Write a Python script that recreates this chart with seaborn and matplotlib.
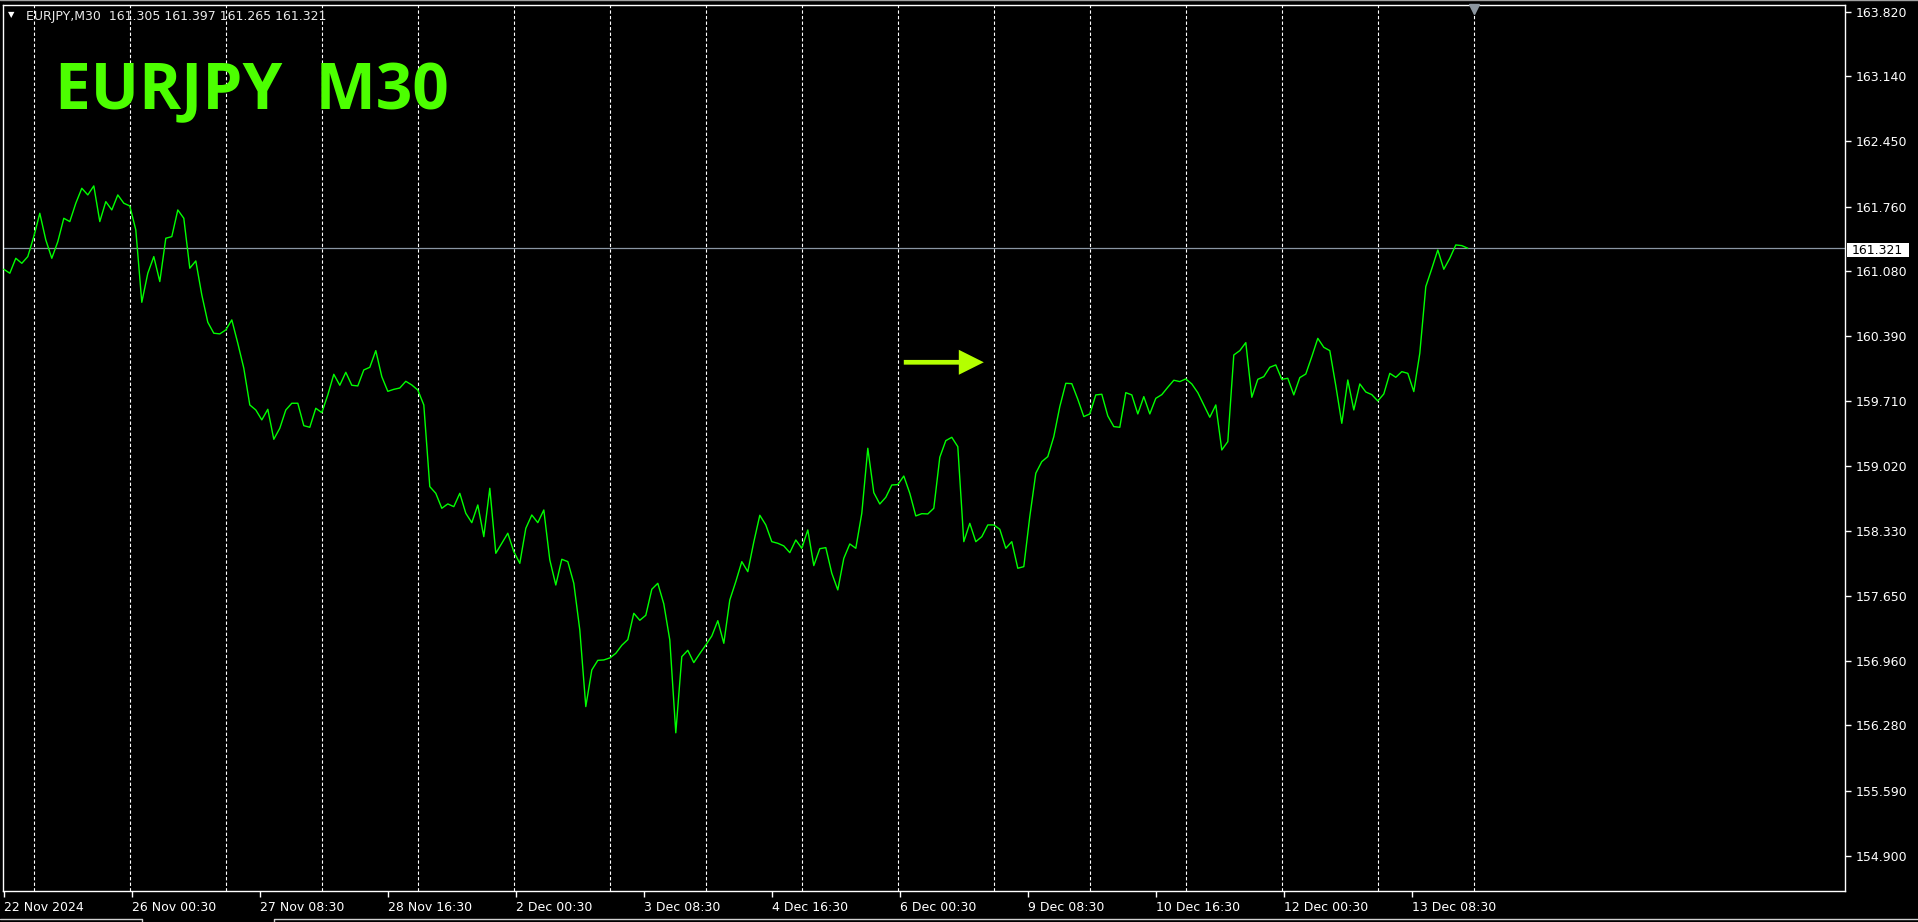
import numpy as np
import pandas as pd
import matplotlib
matplotlib.use("Agg")
import matplotlib.pyplot as plt
import seaborn as sns
from matplotlib.lines import Line2D
from matplotlib.patches import FancyArrowPatch, ArrowStyle, Rectangle

# ---------------- data ----------------
symbol = "EURJPY"
timeframe = "M30"
ohlc_last = [161.305, 161.397, 161.265, 161.321]
last_price = 161.321
bar_step = 3          # closes read every 3 bars (30 min bars)

close_part1 = [161.099, 161.057, 161.215, 161.162, 161.233, 161.444, 161.691, 161.409, 161.215, 161.391,
               161.638, 161.603, 161.797, 161.955, 161.885, 161.980, 161.603, 161.814, 161.726, 161.885,
               161.797, 161.768, 161.515, 160.750, 161.057, 161.233, 160.969, 161.427, 161.444, 161.726,
               161.638, 161.110, 161.187, 160.828, 160.539, 160.423, 160.416, 160.458, 160.564, 160.317,
               160.053, 159.665, 159.612, 159.507, 159.619, 159.302, 159.419, 159.612, 159.683, 159.683]
close_part2 = [159.446, 159.429, 159.630, 159.584, 159.771, 159.989, 159.873, 160.010, 159.873, 159.866,
               160.035, 160.063, 160.239, 159.964, 159.809, 159.830, 159.844, 159.915, 159.876, 159.823,
               159.665, 158.802, 158.731, 158.573, 158.619, 158.590, 158.731, 158.520, 158.421, 158.608,
               158.273, 158.784, 158.097, 158.203, 158.309, 158.115, 157.991, 158.361, 158.502, 158.421,
               158.555, 158.027, 157.762, 158.034, 158.009, 157.780, 157.287, 156.477, 156.864]
close_part3 = [156.966, 156.970, 156.991, 157.040, 157.125, 157.185, 157.463, 157.389, 157.442, 157.717,
               157.780, 157.562, 157.181, 156.200, 157.005, 157.072, 156.942, 157.037, 157.128, 157.223,
               157.385, 157.146, 157.604, 157.798, 158.009, 157.903, 158.217, 158.499, 158.397, 158.220,
               158.203, 158.175, 158.104, 158.238, 158.150, 158.344, 157.967, 158.146, 158.157, 157.886,
               157.710, 158.044, 158.196, 158.150, 158.520, 159.207, 158.738, 158.618, 158.689]
close_part4 = [158.819, 158.823, 158.914, 158.731, 158.492, 158.516, 158.513, 158.573, 159.112, 159.288,
               159.323, 159.224, 158.220, 158.414, 158.220, 158.273, 158.397, 158.397, 158.351, 158.150,
               158.220, 157.939, 157.956, 158.485, 158.943, 159.066, 159.119, 159.330, 159.647, 159.894,
               159.890, 159.725, 159.542, 159.570, 159.771, 159.778, 159.549, 159.436, 159.429, 159.795,
               159.771, 159.570, 159.753, 159.570, 159.735, 159.774, 159.852, 159.926, 159.912]
close_part5 = [159.940, 159.887, 159.795, 159.665, 159.535, 159.665, 159.189, 159.277, 160.193, 160.239,
               160.324, 159.746, 159.936, 159.964, 160.063, 160.088, 159.936, 159.947, 159.771, 159.954,
               159.992, 160.176, 160.369, 160.274, 160.239, 159.869, 159.471, 159.929, 159.612, 159.887,
               159.802, 159.774, 159.707, 159.781, 159.999, 159.957, 160.017, 159.999, 159.806, 160.211,
               160.916, 161.106, 161.303, 161.099, 161.215, 161.356, 161.349, 161.321]

x_tick_labels = ["22 Nov 2024", "26 Nov 00:30", "27 Nov 08:30", "28 Nov 16:30", "2 Dec 00:30",
                 "3 Dec 08:30", "4 Dec 16:30", "6 Dec 00:30", "9 Dec 08:30", "10 Dec 16:30",
                 "12 Dec 00:30", "13 Dec 08:30"]
bars_between_labels = 64
y_ticks = [163.820, 163.140, 162.450, 161.760, 161.080, 160.390, 159.710,
           159.020, 158.330, 157.650, 156.960, 156.280, 155.590, 154.900]
first_day_bar = 15
bars_per_day = 48
n_day_lines = 16
arrow_bars = (450, 490)
arrow_price = 160.116

closes = np.concatenate([close_part1, close_part2, close_part3, close_part4, close_part5])
df = pd.DataFrame({"bar": np.arange(len(closes)) * bar_step, "close": closes})

# ---------------- style ----------------
sns.set_style("dark", {"axes.facecolor": "black", "figure.facecolor": "black"})
plt.rcParams["font.family"] = ["DejaVu Sans"]

W, H = 1918, 922
fig = plt.figure(figsize=(W / 100, H / 100), dpi=100, facecolor="black")
ax = fig.add_axes([2.5 / W, 1 - 891 / H, (1845 - 2.5) / W, (891 - 5) / H])
ax.set_facecolor("black")

# day separators (dashed grid)
for k in range(n_day_lines):
    ax.axvline(first_day_bar + k * bars_per_day, color="white", lw=0.8,
               ls=(0, (3, 2)), zorder=1)

# price line
ax.axhline(last_price, color="#8a96a3", lw=0.9, zorder=1.5)

sns.lineplot(data=df, x="bar", y="close", ax=ax, color="#00ff00", lw=1.0,
             estimator=None, zorder=3)

ax.set_xlim(-0.65, 920.6)
ax.set_ylim(154.528, 163.892)

for s in ax.spines.values():
    s.set_color("white")
    s.set_linewidth(1.0)
    s.set_visible(True)

ax.yaxis.tick_right()
ax.set_yticks(y_ticks)
ax.set_yticklabels([f"{v:.3f}" for v in y_ticks])
ax.set_xticks(np.arange(len(x_tick_labels)) * bars_between_labels)
ax.set_xticklabels(x_tick_labels)
for t in ax.get_xticklabels():
    t.set_ha("left")
ax.tick_params(axis="both", colors="white", labelcolor="white", labelsize=9,
               direction="out", length=4, width=1)
ax.tick_params(axis="y", pad=4, left=False, right=True)
ax.tick_params(axis="x", pad=3, bottom=True)
ax.set_xlabel("")
ax.set_ylabel("")
ax.grid(False)

# arrow object
arrow = FancyArrowPatch((arrow_bars[0], arrow_price), (arrow_bars[1], arrow_price),
                        arrowstyle=ArrowStyle.Simple(head_length=18, head_width=18, tail_width=3.4),
                        mutation_scale=1, color="#b4ff00", lw=0, shrinkA=0, shrinkB=0, zorder=4)
ax.add_patch(arrow)

# shift marker at top
ax.plot([first_day_bar + (n_day_lines - 1) * bars_per_day], [163.852], marker="v", ms=7,
        color="#8c96a0", clip_on=False, zorder=5)

# price label box on the right axis
fig.patches.append(Rectangle((1847 / W, 1 - 257 / H), 62 / W, 14 / H, transform=fig.transFigure,
                             facecolor="white", edgecolor="none"))
fig.text(1852 / W, 1 - 250 / H, f"{last_price:.3f}", color="black", fontsize=9,
         ha="left", va="center")

# header
fig.text(11.5 / W, 1 - 15 / H, "▼", color="white", fontsize=6, ha="center", va="center")
fig.text(26 / W, 1 - 16.5 / H,
         f"{symbol},{timeframe}  " + " ".join(f"{v:.3f}" for v in ohlc_last),
         color="#e8e8e8", fontsize=9, ha="left", va="center")

# big title
fig.text(55 / W, 1 - 109 / H, f"{symbol}  {timeframe}", color="#4cff00", fontsize=46,
         fontweight="bold", family="Open Sans", ha="left", va="baseline")

# window borders
fig.lines.append(Line2D([0, 1], [1 - 0.5 / H, 1 - 0.5 / H], transform=fig.transFigure,
                        color="#a0a0a0", lw=1))
yb = 1 - 919 / H
fig.lines.append(Line2D([0, 142 / W, 142 / W], [yb, yb, 0], transform=fig.transFigure,
                        color="#d0d0d0", lw=1))
fig.lines.append(Line2D([274 / W, 274 / W, 1], [0, yb, yb], transform=fig.transFigure,
                        color="#d0d0d0", lw=1))

fig.savefig("out.png", dpi=100, facecolor="black")
